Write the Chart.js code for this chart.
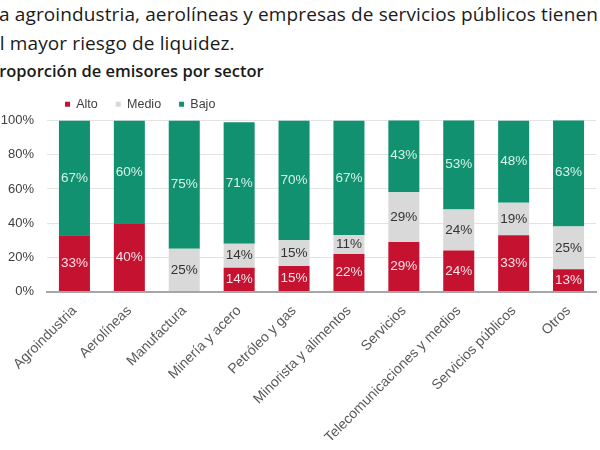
<!DOCTYPE html>
<html>
<head>
<meta charset="utf-8">
<script src="https://cdn.jsdelivr.net/npm/chart.js@4.4.0/dist/chart.umd.min.js"></script>
<style>
  html, body { margin: 0; padding: 0; background: #fff; overflow: hidden; }
  #wrap { position: relative; width: 600px; height: 450px; overflow: hidden; }
  .t1 { position: absolute; left: -11px; white-space: nowrap; font-family: "Open Sans", sans-serif; font-size: 19px; letter-spacing: 0.12px; color: #1a1a1a; line-height: 29px; }
  .t2 { position: absolute; left: -11px; white-space: nowrap; font-family: "Open Sans", sans-serif; font-size: 16.5px; font-weight: 600; color: #1a1a1a; }
  #box { position: absolute; left: 0; top: 80px; width: 600px; height: 370px; }
</style>
</head>
<body>
<div id="wrap">
  <div class="t1" style="top:0px">La agroindustria, aerolíneas y empresas de servicios públicos tienen<br>el mayor riesgo de liquidez.</div>
  <div class="t2" style="top:59px">Proporción de emisores por sector</div>
  <div id="box"><canvas id="sectorChart"></canvas></div>
</div>
<script>
// Datos
const sectores = ['Agroindustria', 'Aerolíneas', 'Manufactura', 'Minería y acero', 'Petróleo y gas',
    'Minorista y alimentos', 'Servicios', 'Telecomunicaciones y medios', 'Servicios públicos', 'Otros'];
const alto  = [33, 40, 0, 14, 15, 22, 29, 24, 33, 13];
const medio = [0, 0, 25, 14, 15, 11, 29, 24, 19, 25];
const bajo  = [67, 60, 75, 71, 70, 67, 43, 53, 48, 63];
const yTicks = [0, 20, 40, 60, 80, 100];

// etiquetas de valor dentro de cada segmento
const valueLabels = {
    id: 'valueLabels',
    afterDatasetsDraw(chart) {
        const ctx = chart.ctx;
        ctx.save();
        ctx.font = '13.5px "Liberation Sans", Arial, sans-serif';
        ctx.textAlign = 'center';
        ctx.textBaseline = 'middle';
        chart.data.datasets.forEach((ds, i) => {
            const meta = chart.getDatasetMeta(i);
            meta.data.forEach((bar, j) => {
                const v = ds.data[j];
                if (!v) return;
                ctx.fillStyle = ds.labelColor;
                ctx.fillText(v + '%', bar.x, (bar.y + bar.base) / 2);
            });
        });
        ctx.restore();
    }
};

const ctx = document.getElementById('sectorChart').getContext('2d');
new Chart(ctx, {
    type: 'bar',
    data: {
        labels: sectores,
        datasets: [
            { label: 'Alto', data: alto, backgroundColor: '#c41230', labelColor: '#fbe3e6' },
            { label: 'Medio', data: medio, backgroundColor: '#d9d9d9', labelColor: '#333333' },
            { label: 'Bajo', data: bajo, backgroundColor: '#119170', labelColor: '#d6f2e8' }
        ]
    },
    options: {
        responsive: true,
        maintainAspectRatio: false,
        animation: false,
        layout: { padding: { left: 0, right: 4, top: 0, bottom: 1 } },
        datasets: { bar: { categoryPercentage: 1, barPercentage: 0.565 } },
        plugins: {
            legend: {
                position: 'top',
                align: 'start',
                fullSize: false,
                labels: {
                    boxWidth: 5, boxHeight: 5, padding: 18,
                    color: '#404040',
                    font: { family: '"Liberation Sans", Arial, sans-serif', size: 12.5 }
                }
            },
            tooltip: { enabled: false }
        },
        scales: {
            x: {
                stacked: true,
                grid: { display: false },
                border: { color: '#a6a6a6', width: 2 },
                afterFit(scale) { scale.paddingLeft = 0; scale.paddingRight = 0; },
                ticks: {
                    maxRotation: 45, minRotation: 45, autoSkip: false,
                    color: '#595959',
                    font: { family: '"Liberation Sans", Arial, sans-serif', size: 14 }
                }
            },
            y: {
                stacked: true,
                min: 0, max: 100,
                afterBuildTicks(axis) { axis.ticks = yTicks.map(v => ({ value: v })); },
                afterFit(scale) { scale.width = 47; },
                grid: { color: '#e3e3e3', drawTicks: false },
                border: { display: false },
                ticks: {
                    padding: 13,
                    color: '#404040',
                    font: { family: '"Liberation Sans", Arial, sans-serif', size: 13 },
                    callback: v => v + '%'
                }
            }
        }
    },
    plugins: [valueLabels]
});
</script>
</body>
</html>
